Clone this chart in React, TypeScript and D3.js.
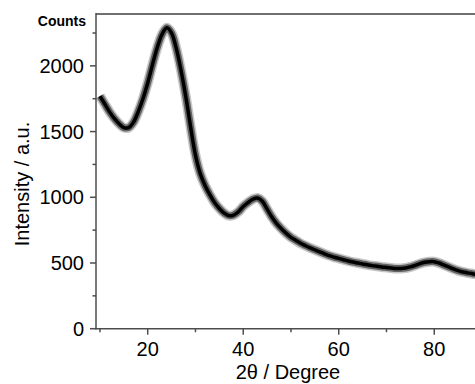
import React from "react";
import * as d3 from "d3";

const angles: number[] = [
  10, 11, 12, 13, 14, 15, 16, 17, 18, 19, 20, 21, 22, 23, 24, 25, 26, 27, 28, 29,
  30, 31, 32, 33, 34, 35, 36, 37, 38, 39, 40, 41, 42, 43, 44, 45, 46, 47, 48, 49,
  50, 51, 52, 53, 54, 55, 56, 57, 58, 59, 60, 61, 62, 63, 64, 65, 66, 67, 68, 69,
  70, 71, 72, 73, 74, 75, 76, 77, 78, 79, 80, 81, 82, 83, 84, 85, 86, 87, 88, 89, 90,
];
const intensity: number[] = [
  1770, 1710, 1650, 1600, 1560, 1530, 1530, 1570, 1650, 1750, 1870, 2010, 2140, 2240, 2290, 2250, 2130, 1960, 1760, 1530,
  1320, 1180, 1090, 1020, 960, 915, 880, 860, 865, 890, 930, 960, 985, 995, 970, 910, 850, 800, 760, 725,
  695, 672, 650, 632, 615, 600, 585, 570, 556, 545, 535, 525, 515, 507, 500, 493, 486, 480, 475, 470,
  466, 462, 458, 458, 462, 470, 482, 495, 505, 510, 510, 500, 485, 470, 455, 442, 432, 425, 418, 412, 405,
];
const yMajorTicks: number[] = [0, 500, 1000, 1500, 2000];
const yMinorTicks: number[] = [250, 750, 1250, 1750, 2250];
const xMajorTicks: number[] = [20, 40, 60, 80];
const xMinorTicks: number[] = [10, 30, 50, 70, 90];

const W = 475;
const H = 384;
const left = 96;
const right = 482;
const top = 13.3;
const bottom = 328.7;
const font = "Arial, 'Liberation Sans', Helvetica, sans-serif";

export default function App() {
  const x = d3.scaleLinear().domain([9.17, 90]).range([left, right]);
  const y = d3.scaleLinear().domain([0, 2400]).range([bottom, top]);
  const pts: [number, number][] = angles.map((a, i) => [a, intensity[i]]);
  const line = d3
    .line<[number, number]>()
    .x((d) => x(d[0]))
    .y((d) => y(d[1]))
    .curve(d3.curveCatmullRom.alpha(0.5));
  const path = line(pts) || "";
  const axisColor = "#4d4d4d";
  return (
    <svg
      width={W}
      height={H}
      style={{ position: "absolute", left: 0, top: 0, background: "#fff" }}
    >
      <rect x={0} y={0} width={W} height={H} fill="#fff" />
      {/* data */}
      <path d={path} fill="none" stroke="#000" strokeOpacity={0.22} strokeWidth={10} strokeLinejoin="round" />
      <path d={path} fill="none" stroke="#000" strokeOpacity={0.5} strokeWidth={7} strokeLinejoin="round" />
      <path d={path} fill="none" stroke="#000" strokeWidth={3.5} strokeLinejoin="round" />
      {/* top border */}
      <line x1={left} x2={W} y1={14} y2={14} stroke="#707070" strokeWidth={2} />
      {/* left axis */}
      <line x1={left} x2={left} y1={13} y2={bottom + 0.7} stroke={axisColor} strokeWidth={1.5} />
      {yMajorTicks.map((t) => (
        <g key={"ym" + t}>
          <line x1={left - 6} x2={left} y1={y(t)} y2={y(t)} stroke={axisColor} strokeWidth={1.5} />
          <text
            x={84}
            y={y(t)}
            textAnchor="end"
            dominantBaseline="central"
            fontFamily={font}
            fontSize={20}
            fill="#000"
          >
            {t}
          </text>
        </g>
      ))}
      {yMinorTicks.map((t) => (
        <line key={"yn" + t} x1={left - 3.5} x2={left} y1={y(t)} y2={y(t)} stroke={axisColor} strokeWidth={1.5} />
      ))}
      {/* bottom axis */}
      <line x1={left - 0.7} x2={W} y1={bottom} y2={bottom} stroke={axisColor} strokeWidth={1.5} />
      {xMajorTicks.map((t) => (
        <g key={"xm" + t}>
          <line x1={x(t)} x2={x(t)} y1={bottom} y2={bottom + 6} stroke={axisColor} strokeWidth={1.5} />
          <text
            x={x(t)}
            y={355.5}
            textAnchor="middle"
            fontFamily={font}
            fontSize={20}
            fill="#000"
          >
            {t}
          </text>
        </g>
      ))}
      {xMinorTicks.map((t) => (
        <line key={"xn" + t} x1={x(t)} x2={x(t)} y1={bottom} y2={bottom + 3.5} stroke={axisColor} strokeWidth={1.5} />
      ))}
      {/* labels */}
      <text x={288} y={379} textAnchor="middle" fontFamily={font} fontSize={20} fill="#000">
        2θ / Degree
      </text>
      <text
        transform={`translate(28.5, 184) rotate(-90)`}
        textAnchor="middle"
        fontFamily={font}
        fontSize={20}
        fill="#000"
      >
        Intensity / a.u.
      </text>
      <text x={86} y={25.5} textAnchor="end" fontFamily={font} fontSize={14} fontWeight="bold" fill="#000">
        Counts
      </text>
    </svg>
  );
}
